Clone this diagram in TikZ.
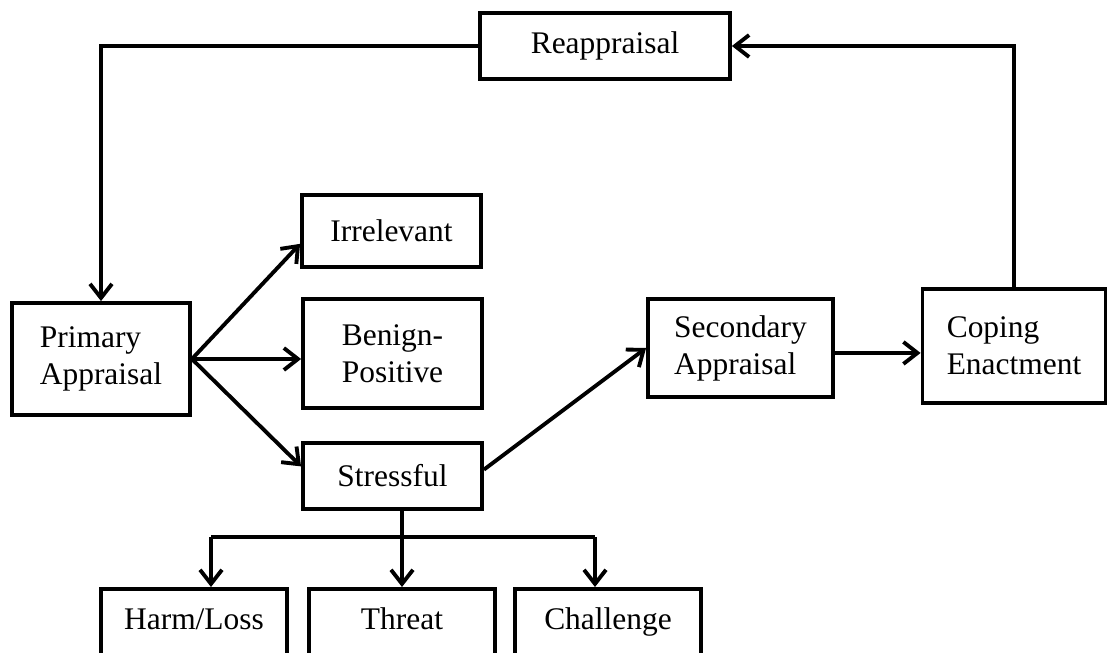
\documentclass[tikz,border=0pt]{standalone}
\usepackage{fontspec}
\setmainfont{Liberation Serif}
\usetikzlibrary{arrows.meta}

\begin{document}
\begin{tikzpicture}[x=0.02cm, y=-0.02cm, font=\fontsize{17.9}{21}\selectfont]
  \tikzstyle{box}=[draw=black, line width=2.2pt, inner sep=0pt];
  \tikzstyle{arr}=[line width=2.2pt, -{Straight Barb[length=8pt,width=12.5pt]}]
  \tikzstyle{lowbox}=[box, anchor=north, minimum width=3.72cm, inner ysep=10pt, text height=13pt, text depth=40pt]

  \useasboundingbox (0,0) rectangle (1108,652);

  \node[box, minimum width=5cm, minimum height=1.32cm] (reap) at (605,46) {Reappraisal};

  \node[box, minimum width=3.56cm, minimum height=2.24cm, align=left] (prim) at (101,359) {Primary\\Appraisal};

  \node[box, minimum width=3.58cm, minimum height=1.44cm] (irr) at (391.5,231) {Irrelevant};
  \node[box, minimum width=3.58cm, minimum height=2.18cm, align=left] (ben) at (392.5,353.5) {Benign-\\Positive};
  \node[box, minimum width=3.58cm, minimum height=1.32cm] (stress) at (392.5,476) {Stressful};

  \node[box, minimum width=3.70cm, minimum height=1.96cm, align=left] (sec) at (740.5,348) {Secondary\\Appraisal};
  \node[box, minimum width=3.66cm, minimum height=2.28cm, align=left] (cop) at (1014,346) {Coping\\Enactment};

  \node[lowbox] (harm) at (194,587) {Harm/Loss};
  \node[lowbox] (thr) at (402,587) {Threat};
  \node[lowbox] (chal) at (608,587) {Challenge};

  %\node (fb) at (1019,47) {};
  \draw[arr] (cop.north) |- (reap.east);
  \draw[arr] (reap.west) -| (prim.north);

  \draw[arr] (prim.east) -- (irr.188);
  \draw[arr] (prim.east) -- (prim.east -| ben.west);
  \draw[arr] (prim.east) -- (stress.174);

  \draw[arr] (stress.4) -- (sec.west);
  \draw[arr] (sec.357) -- (sec.357 -| cop.west);

  \coordinate (bl) at (211,537);
  \coordinate (br) at (595,537);
  \draw[line width=2.2pt] (bl) -- (br);
  \draw[arr] (stress.south -| thr.north) -- (thr.north);
  \draw[arr] (bl) -- (bl |- harm.north);
  \draw[arr] (br) -- (br |- chal.north);

\end{tikzpicture}
\end{document}
